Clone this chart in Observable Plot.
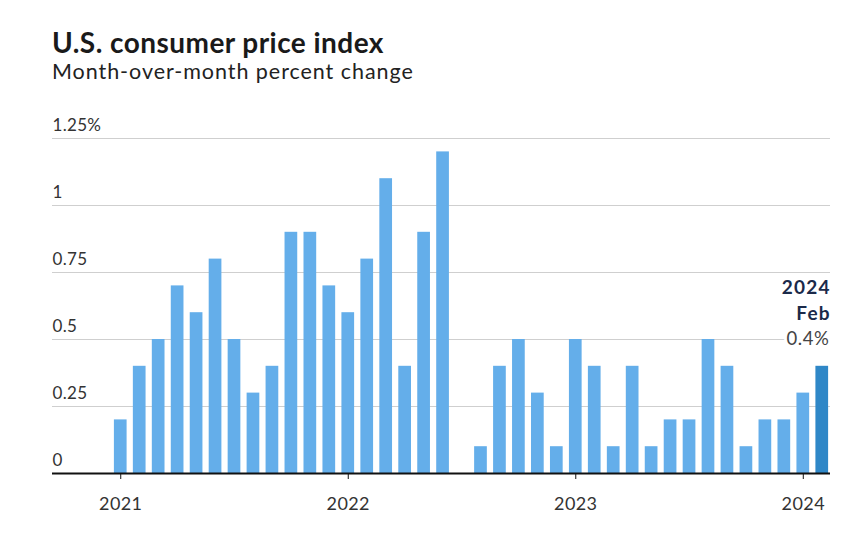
<!DOCTYPE html>
<html>
<head>
<meta charset="utf-8">
<script src="https://cdn.jsdelivr.net/npm/d3@7"></script>
<script src="https://cdn.jsdelivr.net/npm/@observablehq/plot@0.6"></script>
<style>
  html, body { margin: 0; padding: 0; background: #fff; }
  body { width: 868px; height: 537px; position: relative; overflow: hidden; font-family: Lato, "Open Sans", sans-serif; }
  #title { position: absolute; left: 52px; top: 27px; font-size: 28px; line-height: 30px; font-weight: 700; color: #1a1a1a; white-space: nowrap; letter-spacing: 0.45px; }
  #subtitle { position: absolute; left: 52px; top: 58.5px; font-size: 21.5px; line-height: 24px; color: #222; white-space: nowrap; letter-spacing: 0.95px; }
  #chart { position: absolute; left: 0; top: 100px; }
</style>
</head>
<body>
<div id="title">U.S. consumer price index</div>
<div id="subtitle">Month-over-month percent change</div>
<div id="chart"></div>
<script>
const months = [
  "2021-01","2021-02","2021-03","2021-04","2021-05","2021-06","2021-07","2021-08","2021-09","2021-10","2021-11","2021-12",
  "2022-01","2022-02","2022-03","2022-04","2022-05","2022-06","2022-07","2022-08","2022-09","2022-10","2022-11","2022-12",
  "2023-01","2023-02","2023-03","2023-04","2023-05","2023-06","2023-07","2023-08","2023-09","2023-10","2023-11","2023-12",
  "2024-01","2024-02"
];
const cpiChange = [
  0.2, 0.4, 0.5, 0.7, 0.6, 0.8, 0.5, 0.3, 0.4, 0.9, 0.9, 0.7,
  0.6, 0.8, 1.1, 0.4, 0.9, 1.2, 0.0, 0.1, 0.4, 0.5, 0.3, 0.1,
  0.5, 0.4, 0.1, 0.4, 0.1, 0.2, 0.2, 0.5, 0.4, 0.1, 0.2, 0.2,
  0.3, 0.4
];
const yTicks = [0, 0.25, 0.5, 0.75, 1, 1.25];
const yTickLabels = ["0", "0.25", "0.5", "0.75", "1", "1.25%"];
const xTicks = ["2021-01", "2022-01", "2023-01", "2024-01"];
const xTickLabels = ["2021", "2022", "2023", "2024"];
const annotationYear = "2024";
const annotationMonth = "Feb";

const data = months.map((m, i) => ({month: m, value: cpiChange[i], latest: i === months.length - 1}));
const last = data[data.length - 1];

const chart = Plot.plot({
  width: 868,
  height: 437,
  marginLeft: 52,
  marginRight: 38,
  marginTop: 38,
  marginBottom: 64,
  style: {fontFamily: "Lato, 'Open Sans', sans-serif", background: "transparent"},
  x: {type: "band", domain: months, paddingInner: 0.33, paddingOuter: 0.1, insetLeft: 60, insetRight: 0, label: null},
  y: {domain: [0, 1.25], label: null},
  marks: [
    Plot.ruleY(yTicks.filter(d => d > 0), {stroke: "#cfcfcf", strokeWidth: 1}),
    Plot.barY(data, {x: "month", y: "value", fill: d => d.latest ? "#2f87c7" : "#64aeea"}),
    Plot.ruleY([0], {stroke: "#111", strokeWidth: 2}),
    Plot.axisY({
      ticks: yTicks, tickSize: 0, tickPadding: 0, textAnchor: "start", dx: 0, dy: -13,
      tickFormat: d => yTickLabels[yTicks.indexOf(d)], fontSize: 17, fill: "#333"
    }),
    Plot.axisX({
      ticks: xTicks, tickSize: 6, tickPadding: 18, stroke: "#111",
      tickFormat: d => xTickLabels[xTicks.indexOf(d)], fontSize: 18, fill: "#333"
    }),
    Plot.text([last], {
      x: "month", y: "value", text: d => `${d.value.toFixed(1)}%`,
      textAnchor: "end", dx: 7, dy: -27, fontSize: 18.5, fill: "#444",
      stroke: "white", strokeWidth: 6, paintOrder: "stroke"
    }),
    Plot.text([last], {
      x: "month", y: "value", text: d => `${annotationYear}\n${annotationMonth}`,
      textAnchor: "end", dx: 8.5, dy: -46, lineAnchor: "bottom", lineHeight: 1.36,
      fontSize: 19, fontWeight: 700, fill: "#1b2a4a"
    })
  ]
});
// slight letter spacing to approximate the original's wider typeface
d3.select(chart).selectAll("text").each(function() {
  const t = this.textContent;
  if (t.includes(annotationMonth)) this.style.letterSpacing = "1.2px";
  else if (t.endsWith("%") && t !== yTickLabels[yTickLabels.length - 1]) this.style.letterSpacing = "0.5px";
  else if (xTickLabels.includes(t)) this.style.letterSpacing = "0.4px";
  else if (yTickLabels.includes(t)) this.style.letterSpacing = "0.3px";
});
document.getElementById("chart").appendChild(chart);
</script>
</body>
</html>
